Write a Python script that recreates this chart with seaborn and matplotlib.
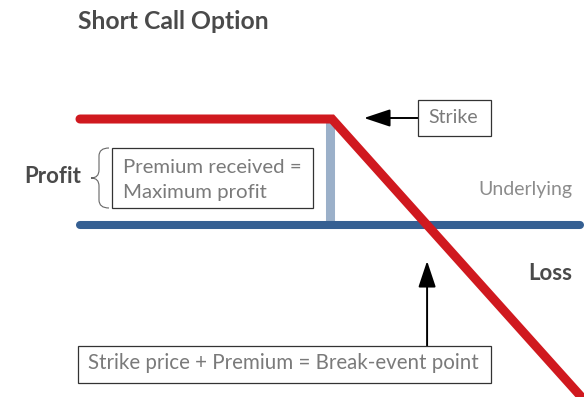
import matplotlib
matplotlib.use("Agg")
import matplotlib.pyplot as plt
import matplotlib.transforms as mtransforms
from matplotlib.patches import Rectangle, PathPatch
from matplotlib.path import Path
import pandas as pd
import seaborn as sns

# Short call payoff: strike, premium, and the payoff curve at a few prices
strike = 100.0
premium = 10.0
breakeven = strike + premium
price = [73.5, 100.0, 128.0]
payoff = [10.0, 10.0, -18.0]
underlying_price = [73.5, 126.1]
underlying_level = [0.0, 0.0]

title = "Short Call Option"
label_profit = "Profit"
label_loss = "Loss"
label_underlying = "Underlying"
label_premium = ["Premium received =", "Maximum profit"]
label_strike = "Strike"
label_breakeven = "Strike price + Premium = Break-event point"

RED = "#d0191f"
BLUE = "#355f92"
LIGHT_BLUE = "#9bb0c9"
GRAY = "#7a7a7a"
DARK = "#4a4a4a"

sns.set_theme(style="white")
plt.rcParams["font.family"] = ["Lato", "DejaVu Sans"]

W, H = 584, 397
fig = plt.figure(figsize=(W / 100, H / 100), dpi=100)
ax = fig.add_axes([0, 0, 1, 1])

# layout helper: pixel coordinates measured from the top-left corner
px = mtransforms.Affine2D().scale(1 / W, -1 / H).translate(0, 1) + fig.transFigure

# premium bar between zero and the premium level at the strike
ax.vlines(strike - 0.2, 0, premium, color=LIGHT_BLUE, lw=6.5, zorder=1)

under_df = pd.DataFrame({"price": underlying_price, "pl": underlying_level})
sns.lineplot(data=under_df, x="price", y="pl", ax=ax, color=BLUE, lw=5.8,
             solid_capstyle="round", zorder=2)

pay_df = pd.DataFrame({"price": price, "pl": payoff})
sns.lineplot(data=pay_df, x="price", y="pl", ax=ax, color=RED, lw=6.5,
             solid_capstyle="round", solid_joinstyle="miter", zorder=3, sort=False)

ax.set_xlim(65.09, 126.5)
ax.set_ylim(-16.23, 21.23)
ax.set_axis_off()

# title and side labels
fig.text(78, 29, title, transform=px, fontsize=17.8, fontweight="bold", color=DARK, va="baseline")
fig.text(24, 183, label_profit, transform=px, fontsize=16, fontweight="bold", color=DARK, va="baseline")
fig.text(572, 280, label_loss, transform=px, fontsize=16, fontweight="bold", color=DARK,
         ha="right", va="baseline")
fig.text(572, 195, label_underlying, transform=px, fontsize=14, color="#8c8c8c",
         ha="right", va="baseline")

def box(x0, y0, x1, y1):
    fig.patches.append(Rectangle((x0, y0), x1 - x0, y1 - y0, transform=px,
                                 facecolor="white", edgecolor="#333333", lw=0.9))

# premium box with brace
box(112, 148, 313, 208)
fig.text(123, 173, label_premium[0], transform=px, fontsize=14.7, color=GRAY, va="baseline")
fig.text(123, 198, label_premium[1], transform=px, fontsize=14.7, color=GRAY, va="baseline")
brace = Path([(109, 148), (99, 148), (99, 156), (99, 170), (99, 178), (91, 178),
              (99, 178), (99, 186), (99, 200), (99, 208), (109, 208)],
             [Path.MOVETO, Path.CURVE3, Path.CURVE3, Path.LINETO, Path.CURVE3, Path.CURVE3,
              Path.CURVE3, Path.CURVE3, Path.LINETO, Path.CURVE3, Path.CURVE3])
fig.patches.append(PathPatch(brace, transform=px, facecolor="none", edgecolor="#666666", lw=0.8))

# strike box and arrow
box(418, 100, 491, 136)
fig.text(428, 123, label_strike, transform=px, fontsize=14, color=GRAY, va="baseline")
ax.annotate("", xy=(364, 118), xycoords=px, xytext=(418, 118), textcoords=px,
            arrowprops=dict(arrowstyle="-|>,head_length=0.9,head_width=0.3", color="black",
                            lw=1.4, mutation_scale=18, shrinkA=0, shrinkB=0))

# break-even box and arrow
box(78, 346, 491, 383)
fig.text(88, 369, label_breakeven, transform=px, fontsize=14.8, color=GRAY, va="baseline")
be_tr = mtransforms.blended_transform_factory(ax.transData, px)
ax.annotate("", xy=(breakeven, 261), xycoords=be_tr, xytext=(breakeven, 346), textcoords=be_tr,
            arrowprops=dict(arrowstyle="-|>,head_length=0.9,head_width=0.3", color="black",
                            lw=1.4, mutation_scale=18, shrinkA=0, shrinkB=0))

fig.savefig("out.png", dpi=100)
